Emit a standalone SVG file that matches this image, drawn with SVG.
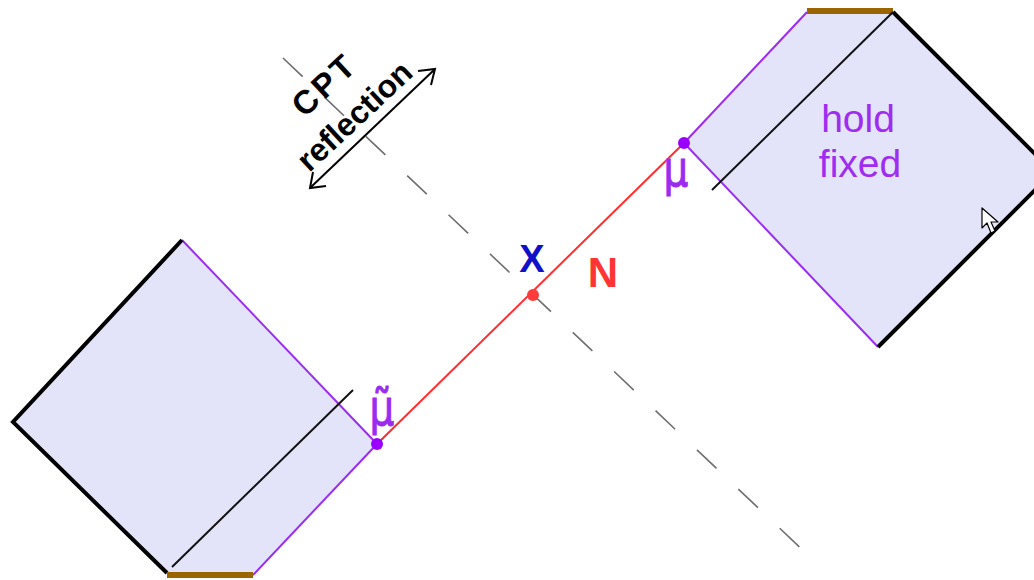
<svg xmlns="http://www.w3.org/2000/svg" width="1034" height="580" viewBox="0 0 1034 580">
<style>
.fill{fill:#e3e3fa;stroke:none}
.pur{stroke:#9a2cf0;stroke-width:2;fill:none}
.blk{stroke:#000;stroke-width:4;fill:none;stroke-linejoin:miter}
.thin{stroke:#111;stroke-width:2;fill:none}
.brn{stroke:#9a6400;stroke-width:6;fill:none}
.red{stroke:#ff2d2d;stroke-width:2;fill:none}
.dash{stroke:#6e6e6e;stroke-width:1.6;fill:none;stroke-dasharray:27 30}
.lbl{font-family:"Liberation Sans",Arial,sans-serif}
.mu{font-family:"DejaVu Sans","Liberation Sans",sans-serif;fill:#9a2cf0;stroke:#9a2cf0;stroke-width:1}
</style>
<rect width="1034" height="580" fill="#fff"/>
<g id="connectors">
<line class="dash" x1="283" y1="58" x2="808" y2="555"/>
<line class="red" x1="377" y1="444" x2="684" y2="143"/>
</g>
<g id="region-top-right">
<polygon class="fill" points="684,143 807,12 893,12 1053,172 878,347"/>
<line class="pur" x1="684" y1="143" x2="807" y2="12"/>
<line class="pur" x1="684" y1="143" x2="878" y2="347"/>
<line class="brn" x1="807" y1="11" x2="893" y2="11"/>
<polyline class="blk" points="893,12 1053,172 878,347"/>
<line class="thin" x1="893" y1="12" x2="712" y2="190"/>
<circle cx="684" cy="143" r="6" fill="#9a00ff"/>
<text class="lbl" x="858" y="132" font-size="39" fill="#a02cf0" text-anchor="middle">hold</text>
<text class="lbl" x="860" y="177" font-size="39" fill="#a02cf0" text-anchor="middle">fixed</text>
<text class="mu" transform="translate(676,186) scale(0.78,1)" font-size="50" text-anchor="middle">μ</text>
</g>
<g id="region-bottom-left">
<polygon class="fill" points="182,240 13,422 167,573 253,573 377,444"/>
<line class="pur" x1="182" y1="240" x2="377" y2="444"/>
<line class="pur" x1="253" y1="575" x2="377" y2="444"/>
<polyline class="blk" points="182,240 13,422 167,573"/>
<line class="brn" x1="167" y1="575" x2="253" y2="575"/>
<line class="thin" x1="172" y1="567" x2="353" y2="390"/>
<circle cx="377" cy="444" r="6" fill="#9a00ff"/>
<text class="mu" transform="translate(382,425) scale(0.78,1)" font-size="50" text-anchor="middle">μ̃</text>
</g>
<g id="point-x">
<circle cx="533" cy="295" r="6" fill="#ff3b3b"/>
<text class="lbl" x="532" y="272" font-size="38" font-weight="bold" fill="#1010c8" text-anchor="middle">X</text>
</g>
<g id="label-n">
<text class="lbl" x="603" y="287" font-size="42" font-weight="bold" fill="#ff3535" text-anchor="middle">N</text>
</g>
<g id="cpt-reflection">
<text class="lbl" transform="translate(332,93) rotate(-43)" font-size="33" font-weight="bold" letter-spacing="3" fill="#000" text-anchor="middle">CPT</text>
<text class="lbl" transform="translate(362,124) rotate(-43)" font-size="32" font-weight="bold" fill="#000" text-anchor="middle">reflection</text>
<line x1="311" y1="187" x2="434" y2="70" stroke="#000" stroke-width="2"/>
<polyline points="313,172 310,188 326,186" stroke="#000" stroke-width="2" fill="none"/>
<polyline points="418,71 435,69 431,85" stroke="#000" stroke-width="2" fill="none"/>
</g>
<g id="cursor">
<polygon points="982,208 982,228 987,223 991,233 995,231 991,222 998,222" fill="#fff" stroke="#000" stroke-width="1.2" stroke-linejoin="round"/>
</g>
</svg>
